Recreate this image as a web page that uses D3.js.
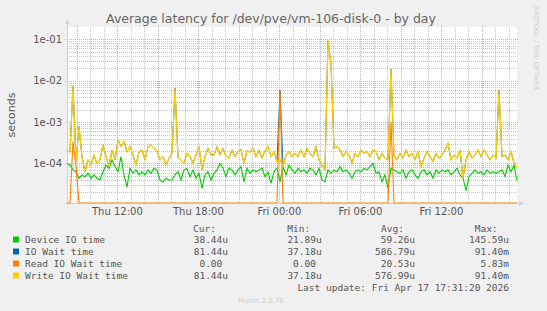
<!DOCTYPE html>
<html><head><meta charset="utf-8">
<script src="https://cdn.jsdelivr.net/npm/d3@7"></script>
<style>body{margin:0;background:#f0f0f0} svg{display:block}</style>
</head><body>
<script>
// ---- data (values in microseconds) ----
const chartTitle = "Average latency for /dev/pve/vm-106-disk-0 - by day";
const yAxisLabel = "seconds";
const seriesNames = ["Device IO time", "IO Wait time", "Read IO Wait time", "Write IO Wait time"];
const seriesColors = ["#00cc00", "#0066b3", "#ff8000", "#ffcc00"];
const startTime = "2026-04-16T08:16";
const endTime = "2026-04-17T17:36";
const yDomainUs = [11.1, 198000];
const yTickValues = [100, 1000, 10000, 100000];
const yTickLabels = ["1e-04", "1e-03", "1e-02", "1e-01"];

const deviceIO = [100,92,70,63,44,53,48,58,44,53, 44,40,63,92,76,122,84,63,146,53,
  27,76,58,70,53,63,53,70,58,77, 70,40,36,44,40,40,53,63,40,70, 76,48,70,44,58,25,53,63,40,58,
  70,101,77,48,77,70,53,70,84,36, 77,58,70,63,70,77,48,63,33,63, 77,36,84,53,92,70,58,77,63,70,
  58,77,70,53,77,40,36,70,58,70, 63,84,63,70,58,44,63,70,63,77, 70,84,101,58,63,36,53,25,77,70,
  63,58,70,44,63,70,53,44,63,70, 53,63,44,70,58,70,63,70,53,63, 77,53,44,22,48,58,70,58,63,53,
  70,58,63,58,63,70,48,92,63,92, 38.44];
const ioWait = [200,190,7450,110,770,145,63,122,92,160, 100,122,280,150,84,212,122,369,255,337,
  193,255,160,92,190,212,122,255,280,237, 200,122,146,92,134,176,6550,140,122,100, 176,150,100,160,255,70,145,233,160,160,
  255,160,233,150,134,212,146,193,220,101, 200,190,233,146,212,134,200,255,146,193, 110,5800,84,160,193,146,176,146,212,146,
  233,176,146,255,122,92,70,91400,25000,233, 255,212,146,193,160,101,176,146,212,176, 193,146,212,193,122,176,134,122,18800,150,
  122,176,134,212,146,176,122,193,84,134, 193,146,111,176,134,160,212,307,122,160, 134,212,45,122,193,134,160,212,146,212,
  160,122,160,134,5960,146,160,122,193,101, 81.44];
const readWait = [0,0,340,85,0,0,0,0,0,0, 0,0,0,0,0,0,0,0,0,0,
  0,0,0,0,0,0,0,0,0,0, 0,0,0,0,0,0,0,0,0,0, 0,0,0,0,0,0,0,0,0,0,
  0,0,0,0,0,0,0,0,0,0, 0,0,0,0,0,0,0,0,0,0, 0,5830,0,0,0,0,0,0,0,0,
  0,0,0,0,0,0,0,0,0,0, 0,0,0,0,0,0,0,0,0,0, 0,0,0,0,0,0,0,0,1000,0,
  0,0,0,0,0,0,0,0,0,0, 0,0,0,0,0,0,0,0,0,0, 0,0,0,0,0,0,0,0,0,0,
  0,0,0,0,0,0,0,0,0,0, 0];
const writeWait = [200,190,7450,110,770,145,63,122,92,160, 100,122,280,150,84,212,122,369,255,337,
  193,255,160,92,190,212,122,255,280,237, 200,122,146,92,134,176,6550,140,122,100, 176,150,100,160,255,70,145,233,160,160,
  255,160,233,150,134,212,146,193,220,101, 200,190,233,146,212,134,200,255,146,193, 110,122,84,160,193,146,176,146,212,146,
  233,176,146,255,122,92,70,91400,25000,233, 255,212,146,193,160,101,176,146,212,176, 193,146,212,193,122,176,134,122,18800,150,
  122,176,134,212,146,176,122,193,84,134, 193,146,111,176,134,160,212,307,122,160, 134,212,45,122,193,134,160,212,146,212,
  160,122,160,134,5960,146,160,122,193,101, 81.44];

const legendCur = ["38.44u", "81.44u", "0.00", "81.44u"];
const legendMin = ["21.89u", "37.18u", "0.00", "37.18u"];
const legendAvg = ["59.26u", "586.79u", "20.53u", "576.99u"];
const legendMax = ["145.59u", "91.40m", "5.83m", "91.40m"];
const legendHeaders = ["Cur:", "Min:", "Avg:", "Max:"];
const lastUpdate = "Last update: Fri Apr 17 17:31:20 2026";
const footer = "Munin 2.0.76";
const sideText = "RRDTOOL / TOBI OETIKER";

// ---- drawing ----
const W = 547, H = 311;
const P = {left: 67, right: 517, top: 27, bottom: 203};
const svg = d3.select("body").append("svg").attr("width", W).attr("height", H)
  .style("background", "#f0f0f0");

const parse = d3.timeParse("%Y-%m-%dT%H:%M");
const t0 = parse(startTime), t1 = parse(endTime);
const x = d3.scaleTime().domain([t0, t1]).range([P.left, P.right]);
const y = d3.scaleLog().domain(yDomainUs).range([P.bottom, P.top]).clamp(true);
const n = writeWait.length;
const timeAt = i => new Date(+t0 + i * (t1 - t0) / (n - 1));

svg.append("rect").attr("x", P.left).attr("y", P.top)
  .attr("width", P.right - P.left).attr("height", P.bottom - P.top).attr("fill", "#fff");

const grid = svg.append("g").attr("shape-rendering", "crispEdges");
y.ticks().filter(v => !yTickValues.includes(v)).forEach(v => {
  const yy = Math.round(y(v)) + 0.5;
  grid.append("line").attr("x1", P.left).attr("x2", P.right).attr("y1", yy).attr("y2", yy)
    .attr("stroke", "#c4c4c4").attr("stroke-dasharray", "1,1");
});
const hours = d3.timeHour.every(1).range(t0, t1);
hours.filter(d => d.getHours() % 3 !== 0).forEach(d => {
  const xx = Math.round(x(d)) + 0.5;
  grid.append("line").attr("x1", xx).attr("x2", xx).attr("y1", P.top).attr("y2", P.bottom)
    .attr("stroke", "#c4c4c4").attr("stroke-dasharray", "1,1");
});
yTickValues.forEach(v => {
  const yy = Math.round(y(v)) + 0.5;
  grid.append("line").attr("x1", P.left - 2).attr("x2", P.right + 2).attr("y1", yy).attr("y2", yy)
    .attr("stroke", "#eea0a0").attr("stroke-dasharray", "1,1");
});
hours.filter(d => d.getHours() % 3 === 0).forEach(d => {
  const xx = Math.round(x(d)) + 0.5;
  grid.append("line").attr("x1", xx).attr("x2", xx).attr("y1", P.top - 2).attr("y2", P.bottom + 2)
    .attr("stroke", "#eea0a0").attr("stroke-dasharray", "1,1");
});

// axes
const axisCol = "#c8cde8";
svg.append("line").attr("x1", P.left + 0.5).attr("x2", P.left + 0.5).attr("y1", P.top - 5).attr("y2", P.bottom + 2)
  .attr("stroke", axisCol);
svg.append("line").attr("x1", P.left - 2).attr("x2", P.right + 3).attr("y1", P.bottom + 0.5).attr("y2", P.bottom + 0.5)
  .attr("stroke", axisCol);
svg.append("path").attr("d", `M${P.left - 2},${P.top - 3} L${P.left + 3},${P.top - 3} L${P.left + 0.5},${P.top - 8} Z`).attr("fill", "#c8d0f8");
svg.append("path").attr("d", `M${P.right + 2},${P.bottom - 2} L${P.right + 2},${P.bottom + 3} L${P.right + 7},${P.bottom + 0.5} Z`).attr("fill", "#c8d0f8");

// series
const series = [deviceIO, ioWait, readWait, writeWait];
const widths = [1.1, 1, 1.1, 1.3];
const line = d3.line().x((d, i) => x(timeAt(i))).y(d => y(Math.max(d, yDomainUs[0])));
svg.append("clipPath").attr("id", "pc").append("rect")
  .attr("x", P.left).attr("y", P.top - 1).attr("width", P.right - P.left + 1).attr("height", P.bottom - P.top + 1.5);
series.forEach((s, k) => {
  svg.append("path").datum(s).attr("d", line).attr("fill", "none")
    .attr("stroke", seriesColors[k]).attr("stroke-width", widths[k]).attr("clip-path", "url(#pc)");
});

// tick labels
const txtCol = "#555";
yTickValues.forEach((v, i) => {
  svg.append("text").attr("x", 62).attr("y", y(v) + 3.5).attr("text-anchor", "end")
    .attr("font-family", "DejaVu Sans").attr("font-size", 10).attr("fill", txtCol).text(yTickLabels[i]);
});
const fmt = d3.timeFormat("%a %H:%M");
d3.timeHour.every(6).range(t0, t1).forEach(d => {
  svg.append("text").attr("x", x(d)).attr("y", 215).attr("text-anchor", "middle")
    .attr("font-family", "DejaVu Sans").attr("font-size", 10).attr("fill", txtCol).text(fmt(d));
});
svg.append("text").attr("transform", `translate(15,${(P.top + P.bottom) / 2}) rotate(-90)`)
  .attr("text-anchor", "middle").attr("font-family", "DejaVu Sans").attr("font-size", 11).attr("fill", txtCol).text(yAxisLabel);

// title
svg.append("text").attr("x", 271).attr("y", 23).attr("text-anchor", "middle")
  .attr("font-family", "DejaVu Sans").attr("font-size", 12.5).attr("fill", "#666").text(chartTitle);
svg.append("text").attr("transform", "translate(534,6) rotate(90)")
  .attr("font-family", "DejaVu Sans").attr("font-size", 6.5).attr("fill", "#cfcfcf").text(sideText);

// legend
const mono = "DejaVu Sans Mono", fs = 9.5;
const colNumEnd = [222.3, 316, 409.3, 503.3];
const headX = [193, 287.3, 381, 474.7];
legendHeaders.forEach((h, j) => {
  svg.append("text").attr("x", headX[j]).attr("y", 231.5).attr("font-family", mono).attr("font-size", fs)
    .attr("fill", txtCol).text(h);
});
const cols = [legendCur, legendMin, legendAvg, legendMax];
seriesNames.forEach((name, i) => {
  const by = 243 + i * 12;
  svg.append("rect").attr("x", 13).attr("y", by - 6.5).attr("width", 6).attr("height", 6).attr("fill", seriesColors[i]);
  svg.append("text").attr("x", 25).attr("y", by).attr("font-family", mono).attr("font-size", fs).attr("fill", txtCol).text(name);
  cols.forEach((c, j) => {
    const m = c[i].match(/^([\d.]+)([a-zA-Z]?)$/);
    svg.append("text").attr("x", colNumEnd[j]).attr("y", by).attr("text-anchor", "end")
      .attr("font-family", mono).attr("font-size", fs).attr("fill", txtCol).text(m[1]);
    if (m[2]) svg.append("text").attr("x", colNumEnd[j]).attr("y", by)
      .attr("font-family", mono).attr("font-size", fs).attr("fill", txtCol).text(m[2]);
  });
});
svg.append("text").attr("x", 509).attr("y", 291).attr("text-anchor", "end")
  .attr("font-family", mono).attr("font-size", fs).attr("fill", txtCol).text(lastUpdate);
svg.append("text").attr("x", 261).attr("y", 303).attr("text-anchor", "middle")
  .attr("font-family", "DejaVu Sans").attr("font-size", 7).attr("fill", "#cfcfcf").text(footer);
</script>
</body></html>
